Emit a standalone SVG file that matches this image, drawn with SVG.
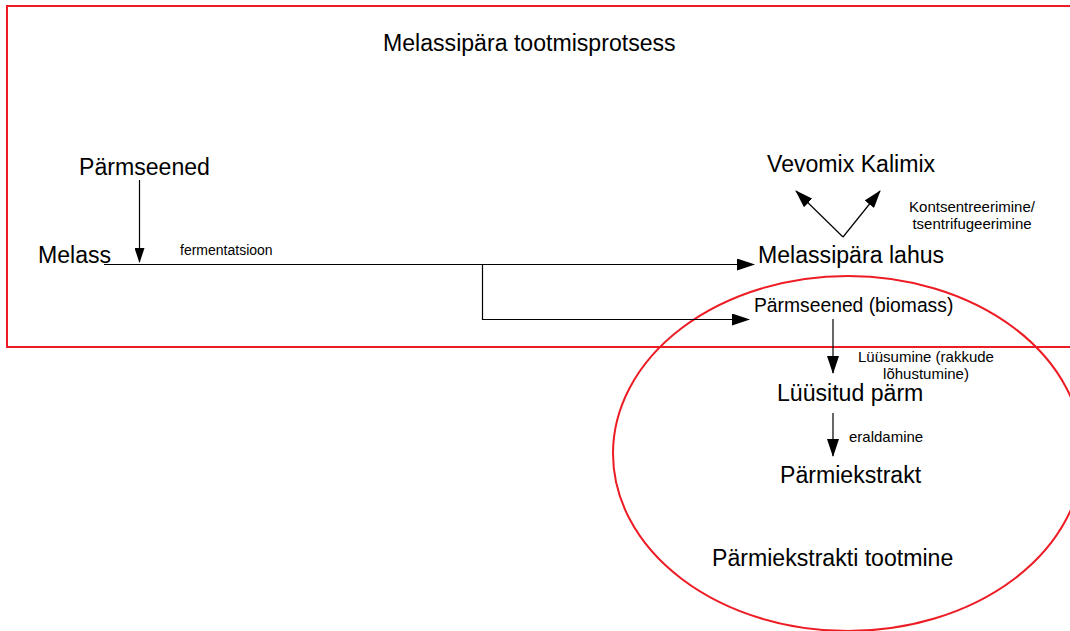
<svg xmlns="http://www.w3.org/2000/svg" width="1070" height="631" viewBox="0 0 1070 631">
<defs>
<style>
text{font-family:"Liberation Sans",Arial,sans-serif;fill:#000}
.big{font-size:23.1px}
.sm{font-size:15px}
.red{fill:none;stroke:#ed1c24;stroke-width:2}
.ln{fill:none;stroke:#000;stroke-width:1.2}
</style>
<marker id="ah" markerUnits="userSpaceOnUse" markerWidth="18" markerHeight="12" refX="17" refY="6" orient="auto" viewBox="0 0 18 12">
<path d="M0,0 L18,6 L0,12 z" fill="#000"/>
</marker>
<marker id="ahs" markerUnits="userSpaceOnUse" markerWidth="15" markerHeight="10" refX="14" refY="5" orient="auto" viewBox="0 0 15 10">
<path d="M0,0 L15,5 L0,10 z" fill="#000"/>
</marker>
</defs>
<rect width="1070" height="631" fill="#fff"/>
<g id="frame-melassipara">
<rect class="red" x="7" y="6" width="1080" height="341"/>
<text class="big" x="383" y="51">Melassipära tootmisprotsess</text>
</g>
<g id="frame-parmiekstrakt">
<ellipse class="red" cx="848" cy="453.5" rx="235" ry="177.5"/>
<text class="big" x="712" y="566">Pärmiekstrakti tootmine</text>
</g>
<g id="n-parmseened"><text class="big" x="79" y="175">Pärmseened</text></g>
<g id="n-melass"><text class="big" x="38" y="263">Melass</text></g>
<g id="n-vevomix"><text class="big" x="767" y="172">Vevomix Kalimix</text></g>
<g id="n-lahus"><text class="big" x="758" y="263">Melassipära lahus</text></g>
<g id="n-biomass"><text class="big" x="754" y="312" style="font-size:19.3px">Pärmseened (biomass)</text></g>
<g id="n-lyysitud"><text class="big" x="777" y="401">Lüüsitud pärm</text></g>
<g id="n-ekstrakt"><text class="big" x="780" y="483">Pärmiekstrakt</text></g>
<g id="connectors">
<line class="ln" x1="139.5" y1="180" x2="139.5" y2="262" marker-end="url(#ahs)"/>
<line class="ln" x1="104" y1="264.5" x2="754" y2="264.5" marker-end="url(#ah)"/>
<polyline class="ln" points="482.5,264.5 482.5,319.5 749,319.5" marker-end="url(#ah)"/>
<line class="ln" x1="843" y1="237" x2="796" y2="191" marker-end="url(#ah)"/>
<line class="ln" x1="843" y1="237" x2="880" y2="191" marker-end="url(#ah)"/>
<line class="ln" x1="833" y1="319" x2="833" y2="373" marker-end="url(#ah)"/>
<line class="ln" x1="833" y1="413" x2="833" y2="456" marker-end="url(#ah)"/>
<text class="sm" x="180" y="255" style="font-size:14px">fermentatsioon</text>
<text class="sm" x="972" y="212" text-anchor="middle">Kontsentreerimine/</text>
<text class="sm" x="972" y="229" text-anchor="middle">tsentrifugeerimine</text>
<text class="sm" x="926" y="362" text-anchor="middle">Lüüsumine (rakkude</text>
<text class="sm" x="926" y="379" text-anchor="middle">lõhustumine)</text>
<text class="sm" x="849" y="442">eraldamine</text>
</g>
</svg>
